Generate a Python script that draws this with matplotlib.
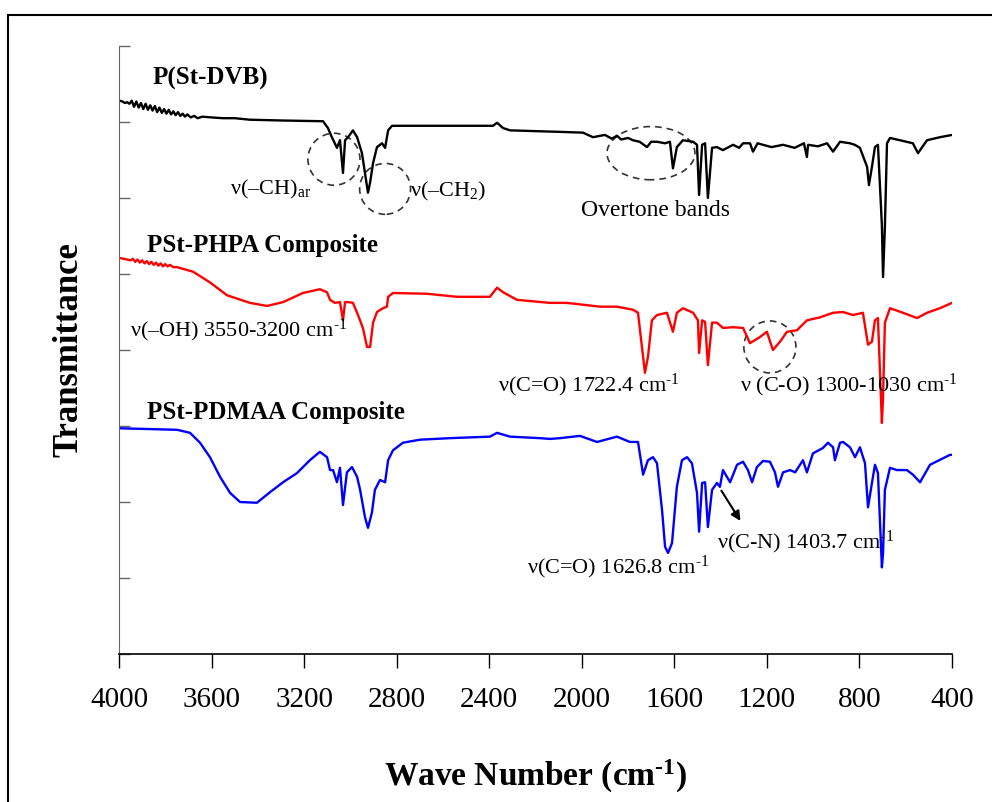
import matplotlib
matplotlib.use("Agg")
import matplotlib.pyplot as plt
from matplotlib.patches import Ellipse, Rectangle

plt.rcParams['font.family'] = ['Liberation Serif', 'DejaVu Serif']
plt.rcParams['mathtext.fontset'] = 'custom'
plt.rcParams['mathtext.rm'] = 'Liberation Serif'
plt.rcParams['mathtext.bf'] = 'Liberation Serif:bold'
plt.rcParams['mathtext.it'] = 'Liberation Serif:italic'

# ---------------- data (wavenumber, offset transmittance) ----------------
dvb_wn = [3996, 3985, 3975, 3965, 3955, 3945, 3935, 3925, 3915, 3905, 3895, 3885, 3875, 3865,
          3855, 3845, 3835, 3825, 3815, 3805, 3795, 3785, 3775, 3765, 3755, 3745, 3735, 3725,
          3715, 3705, 3690, 3675, 3660, 3640, 3600, 3550, 3500, 3434,
          3300, 3118, 3097, 3080, 3058, 3045, 3032, 3023, 3010, 2989, 2971, 2950, 2937, 2924,
          2915, 2902, 2885, 2863, 2850, 2837, 2820, 2384, 2366, 2340, 2310, 2094, 1995, 1952,
          1900, 1870, 1848, 1830, 1800, 1779, 1750, 1718, 1700, 1675, 1640, 1619, 1606, 1589,
          1563, 1519, 1502, 1493, 1480, 1467, 1455, 1437, 1416, 1390, 1346, 1320, 1303, 1273,
          1260, 1240, 1217, 1180, 1130, 1080, 1040, 1027, 1022, 980, 940, 914, 884, 841, 820,
          798, 767, 759, 746, 733, 720, 703, 698, 690, 681, 668, 625, 569, 547, 508, 452, 400]
dvb_t = [7.28, 7.27, 7.25, 7.26, 7.24, 7.28, 7.20, 7.27, 7.19, 7.25, 7.17, 7.24, 7.16, 7.22,
         7.15, 7.21, 7.13, 7.19, 7.12, 7.17, 7.11, 7.16, 7.10, 7.14, 7.09, 7.13, 7.08, 7.11,
         7.07, 7.10, 7.06, 7.08, 7.05, 7.07, 7.06, 7.05, 7.05, 7.03,
         7.02, 7.01, 6.92, 6.80, 6.66, 6.76, 6.33, 6.76, 6.80, 6.89, 6.80, 6.59, 6.33, 6.07,
         6.20, 6.46, 6.67, 6.72, 6.66, 6.89, 6.95, 6.95, 6.99, 6.92, 6.89, 6.87, 6.86, 6.80,
         6.83, 6.78, 6.82, 6.77, 6.79, 6.76, 6.74, 6.67, 6.74, 6.74, 6.72, 6.74, 6.39, 6.67,
         6.76, 6.74, 6.70, 6.04, 6.70, 6.72, 6.00, 6.66, 6.67, 6.63, 6.70, 6.66, 6.72, 6.72,
         6.61, 6.72, 6.70, 6.67, 6.70, 6.66, 6.72, 6.54, 6.70, 6.68, 6.72, 6.61, 6.74, 6.72, 6.70,
         6.66, 6.41, 6.17, 6.41, 6.67, 6.70, 5.64, 4.96, 5.62, 6.72, 6.79, 6.76, 6.72, 6.59,
         6.76, 6.80, 6.83]

phpa_wn = [3996, 3980, 3965, 3950, 3940, 3930, 3920, 3910, 3900, 3890, 3880, 3870, 3860,
           3850, 3840, 3830, 3820, 3810, 3800, 3790, 3780, 3765, 3749, 3680, 3607, 3533, 3434,
           3360, 3291, 3205, 3132, 3101, 3088, 3067, 3045,
           3032, 3023, 3010, 2989, 2967, 2946, 2928, 2915, 2902, 2885, 2859, 2842, 2837, 2816,
           2669, 2539, 2397, 2366, 2340, 2280, 2137, 2064, 1921, 1848, 1779, 1757, 1740, 1727,
           1714, 1697, 1675, 1632, 1606, 1589, 1563, 1519, 1498, 1493, 1480, 1467, 1455, 1437,
           1416, 1390, 1346, 1303, 1273, 1230, 1200, 1174, 1143, 1113, 1070, 1027, 970, 914,
           871, 828, 785, 763, 746, 733, 720, 703, 698, 690, 668, 612, 551, 508, 452, 400]
phpa_t = [5.21, 5.20, 5.19, 5.18, 5.20, 5.16, 5.19, 5.15, 5.18, 5.14, 5.17, 5.13, 5.16,
          5.12, 5.15, 5.11, 5.14, 5.10, 5.13, 5.10, 5.12, 5.09, 5.09, 5.03, 4.89, 4.72, 4.62,
          4.58, 4.63, 4.75, 4.80, 4.76, 4.66, 4.62, 4.63,
          4.39, 4.63, 4.63, 4.62, 4.46, 4.29, 4.04, 4.04, 4.36, 4.50, 4.55, 4.57, 4.70, 4.75,
          4.74, 4.70, 4.70, 4.82, 4.76, 4.66, 4.62, 4.62, 4.57, 4.57, 4.53, 4.49, 4.04, 3.70,
          3.91, 4.39, 4.46, 4.49, 4.24, 4.49, 4.55, 4.49, 4.39, 3.96, 4.39, 4.37, 3.80, 4.36,
          4.36, 4.29, 4.30, 4.29, 4.09, 4.17, 4.24, 4.00, 4.11, 4.24, 4.26, 4.39, 4.43, 4.49,
          4.50, 4.46, 4.49, 4.07, 4.11, 4.39, 4.42, 3.04, 3.38, 4.36, 4.55, 4.49, 4.42, 4.49,
          4.55, 4.62]

pdmaa_wn = [3996, 3749, 3693, 3650, 3607, 3563, 3520, 3477, 3404, 3347, 3291, 3231, 3175,
            3132, 3101, 3088, 3075, 3058, 3045, 3032, 3015, 2993, 2971, 2958, 2937, 2924, 2907,
            2894, 2872, 2850, 2837, 2816, 2773, 2699, 2570, 2397, 2366, 2310, 2181, 2137, 2094,
            2008, 1934, 1848, 1792, 1757, 1735, 1714, 1692, 1675, 1653, 1640, 1627, 1610, 1589,
            1567, 1545, 1524, 1502, 1493, 1480, 1467, 1455, 1437, 1416, 1403, 1390, 1359, 1329,
            1303, 1282, 1264, 1243, 1217, 1187, 1165, 1152, 1130, 1100, 1078, 1044, 1027, 1001,
            958, 936, 914, 906, 884, 871, 841, 819, 798, 776, 763, 746, 733, 720, 703, 698, 690,
            668, 638, 595, 569, 538, 495, 409, 400]
pdmaa_t = [2.97, 2.95, 2.91, 2.78, 2.59, 2.33, 2.12, 2.00, 1.99, 2.13, 2.26, 2.38, 2.55,
           2.66, 2.59, 2.42, 2.42, 2.26, 2.45, 1.96, 2.39, 2.46, 2.33, 2.16, 1.80, 1.66, 1.86,
           2.16, 2.29, 2.26, 2.55, 2.68, 2.78, 2.82, 2.84, 2.86, 2.91, 2.86, 2.84, 2.83, 2.84,
           2.87, 2.79, 2.86, 2.79, 2.79, 2.36, 2.55, 2.59, 2.51, 1.89, 1.41, 1.33, 1.46, 2.20,
           2.55, 2.59, 2.51, 2.12, 1.61, 2.25, 2.26, 1.67, 2.16, 2.25, 2.20, 2.42, 2.26, 2.49,
           2.53, 2.42, 2.26, 2.46, 2.54, 2.53, 2.39, 2.20, 2.39, 2.42, 2.39, 2.55, 2.39, 2.64,
           2.71, 2.78, 2.72, 2.55, 2.78, 2.79, 2.72, 2.59, 2.72, 2.51, 1.93, 2.25, 2.49, 2.38,
           1.14, 1.33, 2.16, 2.45, 2.42, 2.42, 2.36, 2.26, 2.49, 2.62, 2.62]

x_ticks = [4000, 3600, 3200, 2800, 2400, 2000, 1600, 1200, 800, 400]
y_ticks = [0, 1, 2, 3, 4, 5, 6, 7, 8]

# ---------------- figure ----------------
fig = plt.figure(figsize=(9.92, 8.02), dpi=100)
ax = fig.add_axes([119/992, 1-654/802, (952-119)/992, (654-46)/802])

ax.plot(dvb_wn, dvb_t, color='black', lw=1.7)
ax.plot(phpa_wn, phpa_t, color='#ff0000', lw=1.7)
ax.plot(pdmaa_wn, pdmaa_t, color='#0000ff', lw=1.7)

ax.set_xlim(4000, 400)
ax.set_ylim(0, 8)
ax.set_xticks(x_ticks)
ax.set_xticklabels([str(v) for v in x_ticks], fontsize=21)
ax.set_yticks(y_ticks)
ax.set_yticklabels([])
ax.tick_params(axis='x', direction='out', length=10, width=1, pad=14, colors='black')
ax.tick_params(axis='y', direction='in', length=8, width=1, color='#666666')
for s in ['top', 'right']:
    ax.spines[s].set_visible(False)
ax.spines['left'].set_color('#666666')
ax.spines['bottom'].set_linewidth(1.2)

ax.set_xlabel('Wave Number (cm$^{\\mathbf{‐1}}$)', fontsize=24, fontweight='bold', labelpad=32)
ax.set_ylabel('Transmittance', fontsize=25, fontweight='bold', labelpad=21)

# series labels
lbl = dict(fontsize=18, fontweight='bold', ha='left', va='center')
ax.text(3857, 7.57, 'P(St-DVB)', **lbl)
ax.text(3879, 5.37, 'PSt-PHPA Composite', **lbl)
ax.text(3879, 3.18, 'PSt-PDMAA Composite', **lbl)

ann = dict(fontsize=16, ha='left', va='center')
sup = r'$^{\rm ‐1}$'
ax.text(3520, 6.11, r'ν(–CH)$_{\rm ar}$', **ann)
ax.text(2742, 6.08, r'ν(–CH$_{\rm 2}$)', **ann)
ax.text(2003, 5.84, 'Overtone bands', fontsize=17, ha='left', va='center')
ax.text(3952, 4.26, 'ν(–OH) 3550-3200 cm' + sup, **ann)
ax.text(2362, 3.53, 'ν(C=O) 1722.4 cm' + sup, **ann)
ax.text(1316, 3.53, 'ν (C-O) 1300-1030 cm' + sup, **ann)
ax.text(2237, 1.14, 'ν(C=O) 1626.8 cm' + sup, **ann)
ax.text(1416, 1.47, 'ν(C-N) 1403.7 cm' + sup, **ann)

ax.annotate('', xy=(1308, 1.72), xytext=(1403, 2.18),
            arrowprops=dict(arrowstyle='-|>', color='black', lw=1.5, mutation_scale=14))

# dashed circles
for (cx, cy, w, h) in [(3071, 6.51, 225, 0.684), (2850, 6.12, 220, 0.67),
                       (1701, 6.59, 380, 0.70), (1187, 4.04, 225, 0.684)]:
    ax.add_patch(Ellipse((cx, cy), w, h, fill=False, ls=(0, (4, 3)), lw=1.2,
                         edgecolor='#333333'))

# outer frame (partially cropped in reference)
fig.patches.append(Rectangle((8/992, -0.05), 1.1, 1 - 15/802 + 0.05, transform=fig.transFigure,
                             fill=False, edgecolor='black', lw=1.5))

fig.savefig('out.png', dpi=100)
